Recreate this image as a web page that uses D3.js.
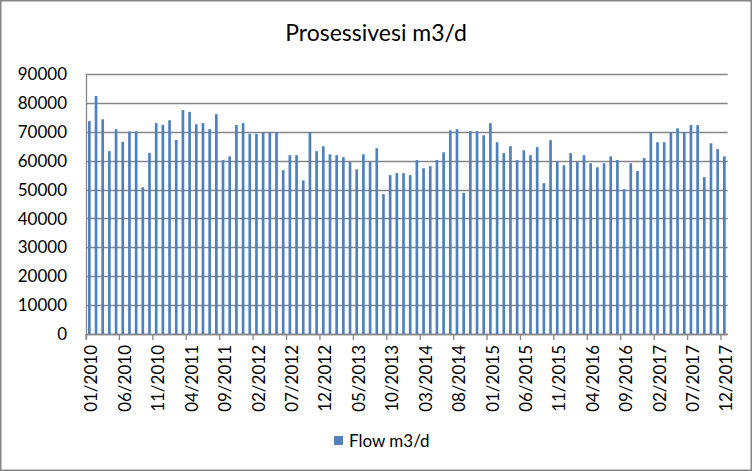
<!DOCTYPE html>
<html><head><meta charset="utf-8">
<script src="https://cdn.jsdelivr.net/npm/d3@7"></script>
<style>html,body{margin:0;padding:0;background:#fff;}svg{display:block;}</style>
</head><body>
<script>
const title = "Prosessivesi m3/d";
const seriesName = "Flow m3/d";
const flow = [
73700,82400,74300,63300,70900,66500,70100,70100,50800,62700,73000,72400,74000,67200,77500,76900,
72600,73000,70900,76100,60200,61500,72400,73000,69300,69300,69900,69900,69900,56700,61900,61900,
53200,69900,63300,65000,62200,61900,61200,59500,57000,62200,59500,64300,48400,55000,55700,55700,
55000,60200,57400,58100,60200,62900,70500,70900,48800,70200,70200,68800,73000,66400,62600,65000,
60200,63600,61900,64700,52200,67100,59800,58400,62600,59500,61900,59100,57700,59100,61500,60200,
50100,59100,56400,60900,69900,66400,66400,69900,71200,69900,72300,72300,54300,66000,64000,61500
];
const yTicks = [0,10000,20000,30000,40000,50000,60000,70000,80000,90000];
const tickLabels = ["01/2010","06/2010","11/2010","04/2011","09/2011","02/2012","07/2012","12/2012","05/2013","10/2013",
"03/2014","08/2014","01/2015","06/2015","11/2015","04/2016","09/2016","02/2017","07/2017","12/2017"];

// categories: months from 01/2010
const months = flow.map((d,i)=>{const m=i%12+1, yr=2010+Math.floor(i/12);return (m<10?"0":"")+m+"/"+yr;});

const W=752,H=471;
const svg=d3.select("body").append("svg").attr("width",W).attr("height",H);
svg.append("rect").attr("x",0.75).attr("y",0.75).attr("width",W-1.5).attr("height",H-1.5)
  .attr("fill","#fff").attr("stroke","#868686").attr("stroke-width",1.5);

const pLeft=86,pRight=727.7,pTop=74,pBottom=334;
const font="Lato, 'Open Sans', sans-serif";
const x=d3.scaleBand().domain(months).range([pLeft,pRight]).paddingInner(0.6).paddingOuter(0.3);
const bx=d3.scaleLinear().domain([0,months.length]).range([pLeft,pRight]);
const y=d3.scaleLinear().domain([0,90000]).range([pBottom,pTop]);

// gridlines
svg.append("g").selectAll("line").data(yTicks).join("line")
  .attr("x1",pLeft).attr("x2",pRight).attr("y1",d=>Math.round(y(d))+0.5).attr("y2",d=>Math.round(y(d))+0.5)
  .attr("stroke","#868686").attr("stroke-width",1.3);

// y labels
svg.append("g").selectAll("text").data(yTicks).join("text")
  .attr("x",67).attr("y",d=>y(d)).attr("dy","0.36em").attr("text-anchor","end")
  .attr("font-family",font).attr("font-size",17).attr("fill","#000").text(d=>d);

// bars
svg.append("g").selectAll("rect").data(flow).join("rect")
  .attr("x",(d,i)=>x(months[i])).attr("width",x.bandwidth())
  .attr("y",d=>y(d)).attr("height",d=>y(0)-y(d)).attr("fill","#4F81BD");

// axes lines
svg.append("line").attr("x1",pLeft+0.5).attr("x2",pLeft+0.5).attr("y1",pTop).attr("y2",pBottom+5)
  .attr("stroke","#868686").attr("stroke-width",1.3);
svg.append("line").attr("x1",pLeft).attr("x2",pRight).attr("y1",Math.round(y(0))+0.5).attr("y2",Math.round(y(0))+0.5)
  .attr("stroke","#868686").attr("stroke-width",1.3);
// x tick marks every 5 categories
const tickIdx=d3.range(0,months.length,5);
svg.append("g").selectAll("line").data(tickIdx).join("line")
  .attr("x1",d=>bx(d)).attr("x2",d=>bx(d)).attr("y1",pBottom).attr("y2",pBottom+6)
  .attr("stroke","#868686").attr("stroke-width",1.3);

// x labels
svg.append("g").selectAll("text").data(tickLabels).join("text")
  .attr("transform",(d,k)=>{const cx=x(months[k*5])+x.bandwidth()/2+2;return `translate(${cx},${pBottom+11}) rotate(-90)`;})
  .attr("text-anchor","end").attr("dy","0.36em")
  .attr("font-family",font).attr("font-size",17).attr("fill","#000").text(d=>d);

// title
svg.append("text").attr("x",376).attr("y",41).attr("text-anchor","middle")
  .attr("font-family",font).attr("font-size",23).attr("fill","#000").text(title);

// legend
svg.append("rect").attr("x",334).attr("y",436).attr("width",9).attr("height",9).attr("fill","#4F81BD");
svg.append("text").attr("x",349).attr("y",441).attr("dy","0.36em")
  .attr("font-family",font).attr("font-size",17).attr("fill","#000").text(seriesName);
</script>
</body></html>
